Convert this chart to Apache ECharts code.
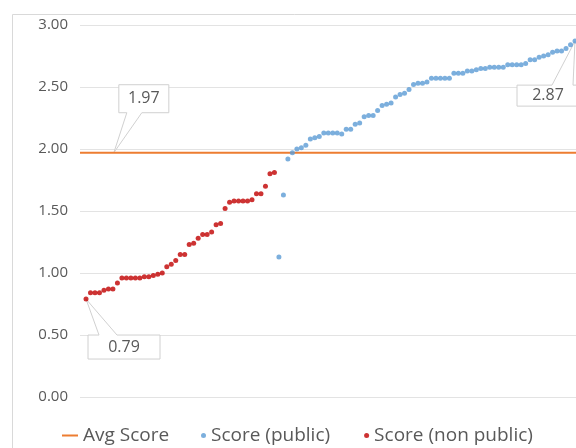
<!DOCTYPE html>
<html>
<head>
<meta charset="utf-8">
<script src="https://cdn.jsdelivr.net/npm/echarts@6/dist/echarts.min.js"></script>
<style>
  html, body { margin: 0; padding: 0; background: #fff; }
  #chart { width: 576px; height: 448px; }
</style>
</head>
<body>
<div id="chart"></div>
<script>
// values, sorted score per entity
const nonPublicScores = [0.79, 0.84, 0.84, 0.84, 0.86, 0.87, 0.87, 0.92, 0.96, 0.96,
  0.96, 0.96, 0.96, 0.97, 0.97, 0.98, 0.99, 1.00, 1.05, 1.07,
  1.10, 1.15, 1.15, 1.23, 1.24, 1.28, 1.31, 1.31, 1.33, 1.39,
  1.40, 1.52, 1.57, 1.58, 1.58, 1.58, 1.58, 1.59, 1.64, 1.64,
  1.70, 1.80, 1.81]
const publicScores = [1.13, 1.63, 1.92, 1.97, 2.00, 2.01, 2.03, 2.08, 2.09, 2.10,
  2.13, 2.13, 2.13, 2.13, 2.12, 2.16, 2.16, 2.20, 2.21, 2.26,
  2.27, 2.27, 2.31, 2.35, 2.36, 2.37, 2.42, 2.44, 2.45, 2.48,
  2.52, 2.53, 2.53, 2.54, 2.57, 2.57, 2.57, 2.57, 2.57, 2.61,
  2.61, 2.61, 2.63, 2.63, 2.64, 2.65, 2.65, 2.66, 2.66, 2.66,
  2.66, 2.68, 2.68, 2.68, 2.68, 2.69, 2.72, 2.72, 2.74, 2.75,
  2.76, 2.78, 2.79, 2.79, 2.81, 2.84, 2.87]
const avgScore = 1.97
const yTicks = [0, 0.5, 1, 1.5, 2, 2.5, 3]

const FONT = 'Open Sans'
const TXT = '#595959'
const xMin = -0.34
const xMax = 110.22

const nonPublicData = nonPublicScores.map((v, i) => [i + 1, v])
const publicData = publicScores.map((v, i) => [nonPublicScores.length + 1 + i, v])

const chart = echarts.init(document.getElementById('chart'))
chart.setOption({
  animation: false,
  grid: { left: 80, right: 0, top: 25, bottom: 51 },
  legend: [{
    data: ['Avg Score'],
    left: 57,
    top: 421,
    icon: 'rect',
    itemWidth: 16,
    itemHeight: 2,
    textStyle: { fontFamily: FONT, fontSize: 19, color: TXT }
  }, {
    data: ['Score (public)', 'Score (non public)'],
    left: 196,
    top: 421,
    icon: 'circle',
    itemWidth: 5,
    itemHeight: 5,
    itemGap: 34,
    textStyle: { fontFamily: FONT, fontSize: 19, color: TXT }
  }],
  xAxis: {
    type: 'value',
    min: xMin,
    max: xMax,
    show: false
  },
  yAxis: {
    type: 'value',
    min: yTicks[0],
    max: yTicks[yTicks.length - 1],
    interval: 0.5,
    axisLine: { show: false },
    axisTick: { show: false },
    axisLabel: {
      margin: 12,
      fontFamily: FONT,
      fontSize: 15,
      color: TXT,
      formatter: v => v.toFixed(2)
    },
    splitLine: { lineStyle: { color: '#e3e3e3', width: 1 } }
  },
  series: [{
    name: 'Avg Score',
    type: 'line',
    data: [[xMin, avgScore], [xMax, avgScore]],
    showSymbol: false,
    lineStyle: { color: '#ED7D31', width: 2 },
    itemStyle: { color: '#ED7D31' },
    z: 1
  }, {
    name: 'Score (public)',
    type: 'scatter',
    data: publicData,
    symbolSize: 5,
    itemStyle: { color: '#5B9BD5' },
    z: 3
  }, {
    name: 'Score (non public)',
    type: 'scatter',
    data: nonPublicData,
    symbolSize: 5,
    itemStyle: { color: '#C00000' },
    z: 3
  }]
})

// excel style callouts: box offsets relative to the tip, wedge on top or bottom edge
function callout (seriesIndex, pt, text, box, wedge, side) {
  const p = chart.convertToPixel({ seriesIndex: seriesIndex }, pt)
  const [l, t, r, b] = box
  const [w1, w2] = wedge
  let pts
  if (side === 'bottom') {
    pts = [[l, t], [r, t], [r, b], [w2, b], [0, 0], [w1, b], [l, b]]
  } else {
    pts = [[l, t], [w1, t], [0, 0], [w2, t], [r, t], [r, b], [l, b]]
  }
  return {
    type: 'group',
    x: p[0],
    y: p[1],
    z: 10,
    children: [{
      type: 'polygon',
      shape: { points: pts },
      style: { fill: '#fff', stroke: '#d0d0d0', lineWidth: 1 }
    }, {
      type: 'text',
      style: {
        text: text,
        x: (l + r) / 2,
        y: (t + b) / 2,
        align: 'center',
        verticalAlign: 'middle',
        fill: TXT,
        font: '16px "' + FONT + '"'
      }
    }]
  }
}

const lastPub = publicData[publicData.length - 1]
chart.setOption({
  graphic: [
    {
      type: 'rect',
      shape: { x: 12.5, y: 14.5, width: 700, height: 700 },
      style: { fill: 'none', stroke: '#d9d9d9', lineWidth: 1 },
      z: 0
    },
    callout(0, [7.2, avgScore], avgScore.toFixed(2), [5, -68, 55, -40], [13, 28], 'bottom'),
    callout(2, nonPublicData[0], nonPublicScores[0].toFixed(2), [2, 36, 74, 60], [13, 31], 'top'),
    callout(1, lastPub, lastPub[1].toFixed(2), [-58, 44, 4, 65], [-23, -2], 'top')
  ]
})
</script>
</body>
</html>
